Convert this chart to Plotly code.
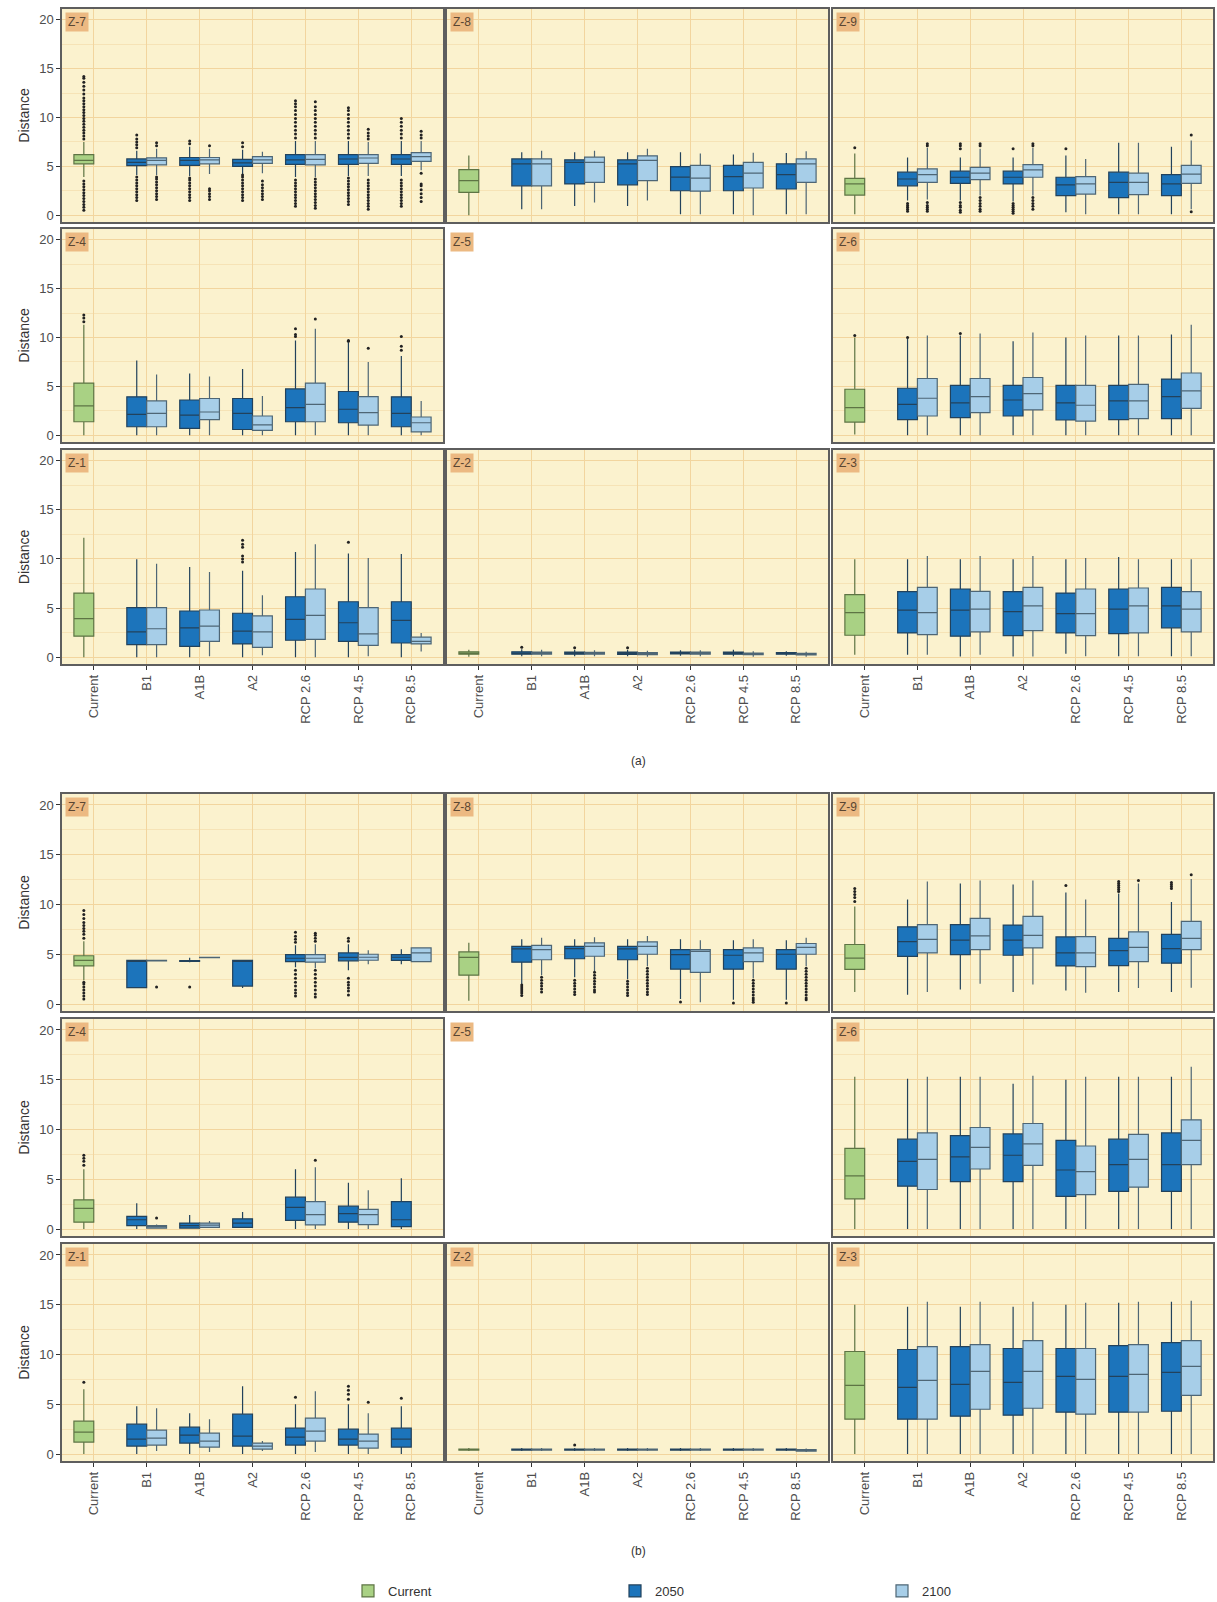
import plotly.graph_objects as go

# ---------------- categories / labels ----------------
CATEGORIES = ["Current", "B1", "A1B", "A2", "RCP 2.6", "RCP 4.5", "RCP 8.5"]
SCENARIOS = CATEGORIES[1:]
Y_TICKS = [0, 5, 10, 15, 20]
SERIES_NAMES = ["Current", "2050", "2100"]
GRID_LAYOUT = [["Z-7", "Z-8", "Z-9"], ["Z-4", "Z-5", "Z-6"], ["Z-1", "Z-2", "Z-3"]]
EMPTY_ZONE = "Z-5"
CAPTIONS = ["(a)", "(b)"]

# box stats: [lower whisker, Q1, median, Q3, upper whisker]; scenario order = SCENARIOS
# ================= (a) =================
A_Z7_CUR = [3.9, 5.25, 5.6, 6.2, 7.5]
A_Z7_CUR_OUT = [7.8, 8.1, 8.4, 8.7, 9.0, 9.3, 9.6, 9.9, 10.2, 10.5, 10.8, 11.1, 11.4, 11.7, 12.0, 12.4,
                12.8, 13.2, 13.6, 14.0, 14.2, 0.5, 0.8, 1.1, 1.4, 1.7, 2.0, 2.3, 2.6, 2.9, 3.2, 3.5]
A_Z7_2050 = [[4.1, 5.08, 5.4, 5.76, 6.6], [4.0, 5.1, 5.6, 5.9, 7.0], [4.2, 5.0, 5.35, 5.7, 6.7],
             [3.9, 5.2, 5.65, 6.2, 7.6], [4.0, 5.2, 5.75, 6.2, 7.6], [4.0, 5.2, 5.75, 6.2, 7.6]]
A_Z7_2050_OUT = [[6.9, 7.2, 7.5, 7.8, 8.2, 1.5, 1.8, 2.1, 2.4, 2.7, 3.0, 3.3, 3.6, 3.9],
                 [7.3, 7.6, 1.5, 1.8, 2.1, 2.4, 2.7, 3.0, 3.3, 3.6, 3.8],
                 [7.0, 7.4, 1.5, 1.8, 2.1, 2.4, 2.7, 3.0, 3.3, 3.6, 3.9, 4.1],
                 [7.9, 8.3, 8.7, 9.1, 9.5, 9.9, 10.3, 10.7, 11.1, 11.4, 11.7, 0.9, 1.2, 1.5, 1.8, 2.1, 2.4, 2.7, 3.0, 3.3, 3.6],
                 [7.9, 8.3, 8.7, 9.1, 9.5, 9.9, 10.3, 10.7, 11.0, 1.1, 1.4, 1.7, 2.0, 2.3, 2.6, 2.9, 3.2, 3.5, 3.8],
                 [7.9, 8.3, 8.7, 9.1, 9.5, 9.9, 0.9, 1.2, 1.5, 1.8, 2.1, 2.4, 2.7, 3.0, 3.3, 3.6]]
A_Z7_2100 = [[4.1, 5.15, 5.6, 5.87, 6.8], [4.2, 5.25, 5.65, 5.9, 6.8], [4.3, 5.3, 5.65, 6.0, 6.5],
             [3.9, 5.15, 5.7, 6.2, 7.6], [4.0, 5.3, 5.85, 6.2, 7.5], [4.6, 5.5, 6.0, 6.4, 7.6]]
A_Z7_2100_OUT = [[7.1, 7.4, 1.6, 1.9, 2.2, 2.5, 2.8, 3.1, 3.4, 3.7, 3.9],
                 [7.1, 1.6, 1.9, 2.2, 2.5, 2.7],
                 [1.6, 1.9, 2.2, 2.5, 2.8, 3.1, 3.5],
                 [7.9, 8.3, 8.7, 9.1, 9.5, 9.9, 10.3, 10.7, 11.1, 11.6, 0.7, 1.0, 1.3, 1.6, 1.9, 2.2, 2.5, 2.8, 3.1, 3.4, 3.7],
                 [7.8, 8.1, 8.4, 8.8, 0.6, 0.9, 1.2, 1.5, 1.8, 2.1, 2.4, 2.7, 3.0, 3.3, 3.6],
                 [7.9, 8.2, 8.6, 4.3, 1.4, 1.8, 2.2, 2.6, 3.0, 3.2]]

A_Z8_CUR = [0.0, 2.33, 3.53, 4.67, 6.1]
A_Z8_CUR_OUT = []
A_Z8_2050 = [[0.6, 3.0, 5.25, 5.76, 6.45], [0.95, 3.2, 5.4, 5.66, 6.45], [0.95, 3.1, 5.25, 5.66, 6.45],
             [0.1, 2.5, 3.9, 4.97, 6.45], [0.1, 2.5, 3.95, 5.1, 6.2], [0.1, 2.68, 4.15, 5.25, 6.35]]
A_Z8_2050_OUT = [[], [], [], [], [], []]
A_Z8_2100 = [[0.6, 3.0, 5.25, 5.76, 6.6], [1.3, 3.36, 5.4, 5.93, 6.6], [1.5, 3.53, 5.6, 6.07, 6.8],
             [0.1, 2.45, 3.8, 5.1, 6.3], [0.0, 2.78, 4.3, 5.4, 6.4], [0.1, 3.36, 5.25, 5.76, 6.55]]
A_Z8_2100_OUT = [[], [], [], [], [], []]

A_Z9_CUR = [0.1, 2.06, 3.2, 3.77, 6.3]
A_Z9_CUR_OUT = [6.9]
A_Z9_2050 = [[1.5, 3.0, 3.7, 4.4, 5.9], [1.5, 3.26, 3.88, 4.5, 5.9], [1.4, 3.2, 3.88, 4.5, 5.9],
             [0.3, 2.0, 3.1, 3.88, 6.1], [0.1, 1.8, 3.36, 4.4, 7.4], [0.1, 2.0, 3.2, 4.15, 7.0]]
A_Z9_2050_OUT = [[1.2, 1.0, 0.8, 0.6, 0.4], [6.8, 7.1, 7.3, 1.3, 1.0, 0.8, 0.5, 0.3],
                 [6.8, 1.2, 1.0, 0.8, 0.6, 0.4, 0.2], [6.8], [], []]
A_Z9_2100 = [[1.6, 3.36, 4.15, 4.73, 6.9], [2.0, 3.64, 4.3, 4.9, 6.8], [2.0, 3.88, 4.63, 5.18, 6.9],
             [0.1, 2.16, 3.2, 3.95, 5.76], [0.1, 2.1, 3.36, 4.3, 7.4], [0.6, 3.26, 4.2, 5.1, 7.65]]
A_Z9_2100_OUT = [[7.1, 7.3, 1.3, 1.0, 0.8, 0.6, 0.4], [7.1, 7.3, 1.8, 1.5, 1.2, 0.9, 0.6, 0.4],
                 [7.1, 7.3, 1.8, 1.5, 1.2, 0.9, 0.6], [], [], [8.2, 0.35]]

A_Z4_CUR = [0.0, 1.37, 2.99, 5.33, 11.3]
A_Z4_CUR_OUT = [11.6, 12.0, 12.3]
A_Z4_2050 = [[0.0, 0.86, 2.13, 3.92, 7.63], [0.0, 0.69, 2.06, 3.6, 6.3], [0.0, 0.58, 2.23, 3.75, 6.77],
             [0.0, 1.37, 2.82, 4.73, 9.7], [0.0, 1.27, 2.65, 4.47, 9.5], [0.0, 0.86, 2.23, 3.92, 8.1]]
A_Z4_2050_OUT = [[], [], [], [10.1, 10.3, 10.9], [9.6, 9.7], [8.7, 9.1, 10.1]]
A_Z4_2100 = [[0.0, 0.86, 2.23, 3.5, 6.2], [0.0, 1.6, 2.37, 3.75, 6.0], [0.0, 0.5, 1.06, 1.96, 4.0],
             [0.0, 1.37, 3.16, 5.33, 10.9], [0.0, 1.03, 2.3, 3.95, 7.5], [0.0, 0.34, 1.27, 1.86, 3.5]]
A_Z4_2100_OUT = [[], [], [], [11.9], [8.9], []]

A_Z6_CUR = [0.07, 1.34, 2.82, 4.7, 10.0]
A_Z6_CUR_OUT = [10.2]
A_Z6_2050 = [[0.0, 1.6, 3.16, 4.8, 9.86], [0.0, 1.8, 3.3, 5.1, 10.2], [0.0, 1.96, 3.6, 5.1, 9.6],
             [0.0, 1.55, 3.3, 5.1, 10.0], [0.0, 1.6, 3.5, 5.1, 10.2], [0.0, 1.7, 3.95, 5.74, 10.3]]
A_Z6_2050_OUT = [[10.0], [10.4], [], [], [], []]
A_Z6_2100 = [[0.0, 1.96, 3.78, 5.8, 10.2], [0.0, 2.3, 3.95, 5.8, 10.4], [0.0, 2.58, 4.26, 5.9, 10.5],
             [0.0, 1.44, 3.06, 5.1, 10.2], [0.0, 1.7, 3.5, 5.2, 10.2], [0.0, 2.75, 4.54, 6.36, 11.3]]
A_Z6_2100_OUT = [[], [], [], [], [], []]

A_Z1_CUR = [0.0, 2.13, 3.92, 6.53, 12.16]
A_Z1_CUR_OUT = []
A_Z1_2050 = [[0.0, 1.27, 2.58, 5.05, 9.97], [0.0, 1.1, 2.99, 4.7, 9.17], [0.0, 1.34, 2.65, 4.47, 8.8],
             [0.0, 1.72, 3.85, 6.15, 10.7], [0.0, 1.6, 3.5, 5.64, 10.55], [0.0, 1.44, 3.75, 5.64, 10.5]]
A_Z1_2050_OUT = [[], [], [9.7, 10.0, 10.3, 11.2, 11.5, 11.9], [], [11.7], []]
A_Z1_2100 = [[0.0, 1.27, 2.89, 5.05, 9.5], [0.1, 1.6, 3.16, 4.8, 8.66], [0.2, 1.0, 2.58, 4.2, 6.3],
             [0.0, 1.8, 4.26, 6.94, 11.5], [0.1, 1.2, 2.37, 5.05, 10.1], [0.58, 1.34, 1.6, 2.03, 2.47]]
A_Z1_2100_OUT = [[], [], [], [], [], []]

A_Z2_CUR = [0.05, 0.3, 0.4, 0.55, 0.75]
A_Z2_CUR_OUT = []
A_Z2_2050 = [[0.1, 0.3, 0.42, 0.55, 0.8], [0.1, 0.3, 0.4, 0.5, 0.75], [0.1, 0.28, 0.38, 0.5, 0.75],
             [0.15, 0.32, 0.42, 0.52, 0.7], [0.1, 0.3, 0.4, 0.5, 0.75], [0.15, 0.3, 0.38, 0.45, 0.6]]
A_Z2_2050_OUT = [[1.0], [0.95], [0.95], [], [], []]
A_Z2_2100 = [[0.1, 0.3, 0.4, 0.5, 0.75], [0.1, 0.3, 0.38, 0.48, 0.7], [0.05, 0.25, 0.35, 0.45, 0.65],
             [0.1, 0.3, 0.4, 0.5, 0.7], [0.05, 0.25, 0.33, 0.42, 0.6], [0.05, 0.22, 0.3, 0.38, 0.55]]
A_Z2_2100_OUT = [[], [], [], [], [], []]

A_Z3_CUR = [0.24, 2.23, 4.54, 6.36, 9.97]
A_Z3_CUR_OUT = []
A_Z3_2050 = [[0.24, 2.47, 4.78, 6.67, 9.97], [0.07, 2.13, 4.78, 6.94, 9.97], [0.07, 2.2, 4.64, 6.67, 9.97],
             [0.34, 2.47, 4.43, 6.53, 9.97], [0.1, 2.4, 4.88, 6.94, 10.2], [0.1, 2.99, 5.22, 7.1, 9.97]]
A_Z3_2050_OUT = [[], [], [], [], [], []]
A_Z3_2100 = [[0.24, 2.3, 4.54, 7.1, 10.3], [0.24, 2.58, 4.88, 6.7, 10.3], [0.07, 2.7, 5.22, 7.1, 10.3],
             [0.1, 2.2, 4.43, 6.94, 10.1], [0.1, 2.47, 5.22, 7.04, 9.97], [0.1, 2.58, 4.88, 6.67, 9.97]]
A_Z3_2100_OUT = [[], [], [], [], [], []]

# ================= (b) =================
B_Z7_CUR = [2.4, 3.83, 4.38, 4.85, 6.3]
B_Z7_CUR_OUT = [6.6, 7.0, 7.3, 7.6, 7.9, 8.2, 8.6, 9.0, 9.4, 0.5, 0.8, 1.1, 1.4, 1.7, 2.0, 2.2]
B_Z7_2050 = [[1.64, 1.64, 4.3, 4.38, 4.38], [4.2, 4.28, 4.32, 4.36, 4.65], [1.6, 1.8, 4.3, 4.38, 4.38],
             [3.7, 4.27, 4.6, 4.96, 5.9], [3.4, 4.34, 4.68, 5.13, 6.0], [4.0, 4.38, 4.7, 4.96, 5.5]]
B_Z7_2050_OUT = [[], [1.7], [], [6.2, 6.5, 6.8, 7.2, 3.4, 3.0, 2.6, 2.2, 1.8, 1.4, 1.1, 0.8],
                 [6.3, 6.6, 2.6, 2.2, 1.9, 1.6, 1.3, 0.9], []]
B_Z7_2100 = [[4.3, 4.33, 4.35, 4.38, 4.4], [4.62, 4.65, 4.68, 4.7, 4.74], None,
             [3.6, 4.2, 4.6, 4.96, 6.0], [4.0, 4.4, 4.7, 5.0, 5.4], [4.27, 4.27, 5.13, 5.64, 5.64]]
B_Z7_2100_OUT = [[1.7], [], [], [6.3, 6.6, 6.9, 7.1, 3.4, 3.0, 2.6, 2.2, 1.8, 1.4, 1.0, 0.7], [], []]

B_Z8_CUR = [0.34, 2.9, 4.68, 5.23, 6.15]
B_Z8_CUR_OUT = []
B_Z8_2050 = [[2.0, 4.2, 5.54, 5.8, 6.5], [2.7, 4.55, 5.57, 5.8, 6.5], [2.5, 4.45, 5.54, 5.8, 6.5],
             [0.5, 3.5, 4.96, 5.47, 6.5], [0.44, 3.5, 4.9, 5.47, 6.4], [0.44, 3.5, 5.0, 5.47, 6.4]]
B_Z8_2050_OUT = [[1.9, 1.7, 1.5, 1.3, 1.1, 0.85], [2.4, 2.1, 1.8, 1.5, 1.2, 0.95],
                 [2.3, 2.0, 1.7, 1.4, 1.1, 0.85], [0.2], [0.1], [0.1]]
B_Z8_2100 = [[2.9, 4.45, 5.47, 5.9, 6.67], [3.3, 4.8, 5.8, 6.15, 6.7], [3.8, 5.0, 5.8, 6.25, 6.84],
             [0.17, 3.18, 5.3, 5.47, 6.4], [2.6, 4.27, 5.13, 5.64, 6.5], [3.8, 5.0, 5.7, 6.08, 6.67]]
B_Z8_2100_OUT = [[2.7, 2.4, 2.1, 1.8, 1.5, 1.2], [3.2, 2.9, 2.6, 2.3, 2.0, 1.7, 1.4, 1.2],
                 [3.6, 3.3, 3.0, 2.7, 2.4, 2.1, 1.8, 1.5, 1.2, 0.95], [],
                 [2.4, 2.1, 1.8, 1.5, 1.2, 0.9, 0.6, 0.4, 0.17],
                 [3.6, 3.3, 3.0, 2.7, 2.4, 2.1, 1.8, 1.5, 1.2, 0.9, 0.6, 0.44]]

B_Z9_CUR = [1.2, 3.49, 4.62, 5.98, 9.8]
B_Z9_CUR_OUT = [10.3, 10.7, 11.0, 11.3, 11.6]
B_Z9_2050 = [[0.92, 4.79, 6.26, 7.76, 10.5], [1.47, 4.96, 6.43, 7.97, 12.1], [1.2, 4.9, 6.43, 7.93, 12.0],
             [1.37, 3.83, 5.13, 6.74, 11.2], [1.2, 3.86, 5.37, 6.6, 11.1], [1.2, 4.1, 5.57, 7.0, 10.25]]
B_Z9_2050_OUT = [[], [], [], [11.9], [11.3, 11.5, 11.7, 11.9, 12.1, 12.3], [11.6, 11.8, 12.0, 12.2]]
B_Z9_2100 = [[1.2, 5.13, 6.5, 7.97, 12.3], [2.05, 5.47, 6.84, 8.6, 12.4], [1.95, 5.64, 6.9, 8.8, 12.4],
             [1.13, 3.76, 5.13, 6.77, 10.5], [1.6, 4.27, 5.7, 7.25, 12.1], [1.64, 5.47, 6.6, 8.3, 12.55]]
B_Z9_2100_OUT = [[], [], [], [], [12.4], [13.0]]

B_Z4_CUR = [0.0, 0.69, 2.07, 2.93, 6.0]
B_Z4_CUR_OUT = [6.4, 6.8, 7.1, 7.4]
B_Z4_2050 = [[0.0, 0.34, 0.93, 1.28, 2.6], [0.1, 0.1, 0.34, 0.6, 1.4], [0.1, 0.17, 0.6, 1.03, 1.7],
             [0.0, 0.86, 2.17, 3.2, 6.0], [0.0, 0.69, 1.55, 2.3, 4.65], [0.0, 0.24, 0.93, 2.76, 5.1]]
B_Z4_2050_OUT = [[], [], [], [], [], []]
B_Z4_2100 = [[0.1, 0.1, 0.24, 0.34, 0.45], [0.1, 0.17, 0.4, 0.6, 0.8], None,
             [0.0, 0.41, 1.45, 2.76, 6.2], [0.0, 0.45, 1.45, 1.97, 3.9], None]
B_Z4_2100_OUT = [[1.1], [], [], [6.9], [], []]

B_Z6_CUR = [0.0, 3.03, 5.34, 8.1, 15.3]
B_Z6_CUR_OUT = []
B_Z6_2050 = [[0.0, 4.31, 6.8, 9.03, 15.1], [0.0, 4.76, 7.24, 9.38, 15.3], [0.0, 4.76, 7.41, 9.55, 14.6],
             [0.0, 3.28, 5.93, 8.9, 15.0], [0.0, 3.79, 6.48, 9.03, 15.3], [0.0, 3.79, 6.48, 9.66, 15.3]]
B_Z6_2050_OUT = [[], [], [], [], [], []]
B_Z6_2100 = [[0.0, 3.97, 7.0, 9.66, 15.3], [0.0, 6.03, 8.2, 10.2, 15.3], [0.0, 6.4, 8.55, 10.6, 15.4],
             [0.0, 3.45, 5.76, 8.34, 15.3], [0.0, 4.2, 7.0, 9.5, 15.3], [0.0, 6.48, 8.9, 10.97, 16.3]]
B_Z6_2100_OUT = [[], [], [], [], [], []]

B_Z1_CUR = [0.0, 1.2, 2.2, 3.3, 6.5]
B_Z1_CUR_OUT = [7.2]
B_Z1_2050 = [[0.0, 0.8, 1.5, 3.0, 4.8], [0.0, 1.1, 1.9, 2.7, 4.1], [0.0, 0.8, 1.8, 4.0, 6.8],
             [0.0, 0.9, 1.7, 2.6, 5.0], [0.0, 0.9, 1.5, 2.5, 5.0], [0.0, 0.7, 1.5, 2.6, 4.8]]
B_Z1_2050_OUT = [[], [], [], [5.7], [5.5, 6.0, 6.4, 6.8], [5.6]]
B_Z1_2100 = [[0.3, 0.9, 1.6, 2.4, 4.6], [0.2, 0.7, 1.3, 2.1, 3.5], [0.3, 0.5, 0.8, 1.1, 1.3],
             [0.2, 1.3, 2.3, 3.6, 6.3], [0.0, 0.6, 1.3, 2.0, 4.1], None]
B_Z1_2100_OUT = [[], [], [], [], [5.2], []]

B_Z2_CUR = [0.3, 0.4, 0.45, 0.5, 0.6]
B_Z2_CUR_OUT = []
B_Z2_2050 = [[0.3, 0.4, 0.45, 0.5, 0.6], [0.3, 0.4, 0.45, 0.5, 0.6], [0.3, 0.4, 0.45, 0.5, 0.6],
             [0.3, 0.4, 0.45, 0.5, 0.6], [0.3, 0.4, 0.45, 0.5, 0.6], [0.3, 0.4, 0.45, 0.5, 0.6]]
B_Z2_2050_OUT = [[], [0.9], [], [], [], []]
B_Z2_2100 = [[0.3, 0.4, 0.45, 0.5, 0.6], [0.3, 0.4, 0.45, 0.5, 0.6], [0.3, 0.4, 0.45, 0.5, 0.6],
             [0.3, 0.4, 0.45, 0.5, 0.6], [0.3, 0.4, 0.45, 0.5, 0.6], [0.2, 0.3, 0.4, 0.45, 0.55]]
B_Z2_2100_OUT = [[], [], [], [], [], []]

B_Z3_CUR = [0.0, 3.5, 6.9, 10.3, 15.0]
B_Z3_CUR_OUT = []
B_Z3_2050 = [[0.0, 3.5, 6.7, 10.5, 14.8], [0.0, 3.8, 7.0, 10.8, 14.8], [0.0, 3.9, 7.2, 10.6, 14.8],
             [0.0, 4.2, 7.8, 10.6, 15.0], [0.0, 4.2, 7.8, 10.9, 15.2], [0.0, 4.3, 8.2, 11.2, 15.3]]
B_Z3_2050_OUT = [[], [], [], [], [], []]
B_Z3_2100 = [[0.0, 3.5, 7.4, 10.8, 15.3], [0.0, 4.5, 8.3, 11.0, 15.3], [0.0, 4.6, 8.3, 11.4, 15.3],
             [0.0, 4.0, 7.5, 10.6, 15.2], [0.0, 4.2, 8.0, 11.0, 15.3], [0.0, 5.9, 8.8, 11.4, 15.4]]
B_Z3_2100_OUT = [[], [], [], [], [], []]

# table built from the named arrays
PANELS = {
    ("a", "Z-7"): (A_Z7_CUR, A_Z7_CUR_OUT, A_Z7_2050, A_Z7_2050_OUT, A_Z7_2100, A_Z7_2100_OUT),
    ("a", "Z-8"): (A_Z8_CUR, A_Z8_CUR_OUT, A_Z8_2050, A_Z8_2050_OUT, A_Z8_2100, A_Z8_2100_OUT),
    ("a", "Z-9"): (A_Z9_CUR, A_Z9_CUR_OUT, A_Z9_2050, A_Z9_2050_OUT, A_Z9_2100, A_Z9_2100_OUT),
    ("a", "Z-4"): (A_Z4_CUR, A_Z4_CUR_OUT, A_Z4_2050, A_Z4_2050_OUT, A_Z4_2100, A_Z4_2100_OUT),
    ("a", "Z-6"): (A_Z6_CUR, A_Z6_CUR_OUT, A_Z6_2050, A_Z6_2050_OUT, A_Z6_2100, A_Z6_2100_OUT),
    ("a", "Z-1"): (A_Z1_CUR, A_Z1_CUR_OUT, A_Z1_2050, A_Z1_2050_OUT, A_Z1_2100, A_Z1_2100_OUT),
    ("a", "Z-2"): (A_Z2_CUR, A_Z2_CUR_OUT, A_Z2_2050, A_Z2_2050_OUT, A_Z2_2100, A_Z2_2100_OUT),
    ("a", "Z-3"): (A_Z3_CUR, A_Z3_CUR_OUT, A_Z3_2050, A_Z3_2050_OUT, A_Z3_2100, A_Z3_2100_OUT),
    ("b", "Z-7"): (B_Z7_CUR, B_Z7_CUR_OUT, B_Z7_2050, B_Z7_2050_OUT, B_Z7_2100, B_Z7_2100_OUT),
    ("b", "Z-8"): (B_Z8_CUR, B_Z8_CUR_OUT, B_Z8_2050, B_Z8_2050_OUT, B_Z8_2100, B_Z8_2100_OUT),
    ("b", "Z-9"): (B_Z9_CUR, B_Z9_CUR_OUT, B_Z9_2050, B_Z9_2050_OUT, B_Z9_2100, B_Z9_2100_OUT),
    ("b", "Z-4"): (B_Z4_CUR, B_Z4_CUR_OUT, B_Z4_2050, B_Z4_2050_OUT, B_Z4_2100, B_Z4_2100_OUT),
    ("b", "Z-6"): (B_Z6_CUR, B_Z6_CUR_OUT, B_Z6_2050, B_Z6_2050_OUT, B_Z6_2100, B_Z6_2100_OUT),
    ("b", "Z-1"): (B_Z1_CUR, B_Z1_CUR_OUT, B_Z1_2050, B_Z1_2050_OUT, B_Z1_2100, B_Z1_2100_OUT),
    ("b", "Z-2"): (B_Z2_CUR, B_Z2_CUR_OUT, B_Z2_2050, B_Z2_2050_OUT, B_Z2_2100, B_Z2_2100_OUT),
    ("b", "Z-3"): (B_Z3_CUR, B_Z3_CUR_OUT, B_Z3_2050, B_Z3_2050_OUT, B_Z3_2100, B_Z3_2100_OUT),
}

# ---------------- styling / layout ----------------
W, H = 1217, 1602
FONT = "Liberation Sans, Arial, sans-serif"
PANEL_BG = "#FBF2CE"
GRID_MAJOR = "#F2D59E"
GRID_MINOR = "#F6E3B6"
BORDER = "#5E5E5E"
STRIP_BG = "#ECB982"
FILL = {"Current": "#A9D184", "2050": "#1C74BB", "2100": "#A7CEE8"}
LINE = {"Current": "#5E7444", "2050": "#22425C", "2100": "#4E6675"}
OFFSET = {"Current": "left", "2050": "left", "2100": "right"}

COL_X = [(62, 443), (447, 828), (833, 1213)]
ROW_Y = {"a": [(9, 222), (229, 442), (450, 664)],
         "b": [(794, 1011), (1019, 1236), (1244, 1461)]}
CAPTION_Y = {"a": 761, "b": 1560}
Y_RANGE = [-0.7, 21.1]


def px_x(v):
    return v / W


def px_y(v):
    return 1 - v / H


fig = go.Figure()
layout_axes = {}
annotations = []
legend_done = set()
k = 0

for fig_key, caption in zip(["a", "b"], CAPTIONS):
    for r, row in enumerate(GRID_LAYOUT):
        for c, zone in enumerate(row):
            x0, x1 = COL_X[c]
            y0, y1 = ROW_Y[fig_key][r]
            annotations.append(dict(
                text=zone, x=px_x(x0 + 3), y=px_y(y0 + 3), xref="paper", yref="paper",
                xanchor="left", yanchor="top", showarrow=False, bgcolor=STRIP_BG,
                borderpad=2, font=dict(family=FONT, size=12, color="#5A4632")))
            if zone == EMPTY_ZONE:
                continue
            k += 1
            sfx = "" if k == 1 else str(k)
            bottom_row = (r == 2)
            left_col = (c == 0)
            layout_axes["xaxis" + sfx] = dict(
                domain=[px_x(x0), px_x(x1)], anchor="y" + sfx, type="category",
                categoryorder="array", categoryarray=CATEGORIES, range=[-0.6, 6.6],
                showgrid=True, gridcolor=GRID_MAJOR, gridwidth=1,
                showline=True, mirror=True, linecolor=BORDER, linewidth=1.5,
                ticks="outside" if bottom_row else "", ticklen=4, tickcolor="#333333",
                showticklabels=bottom_row, tickangle=-90,
                tickfont=dict(family=FONT, size=13, color="#4D4D4D"), zeroline=False)
            layout_axes["yaxis" + sfx] = dict(
                domain=[px_y(y1), px_y(y0)], anchor="x" + sfx, range=Y_RANGE,
                tickvals=Y_TICKS, showgrid=True, gridcolor=GRID_MAJOR, gridwidth=1,
                minor=dict(dtick=2.5, tick0=0, showgrid=True, gridcolor=GRID_MINOR, gridwidth=1),
                showline=True, mirror=True, linecolor=BORDER, linewidth=1.5,
                ticks="outside" if left_col else "", ticklen=4, tickcolor="#333333",
                showticklabels=left_col, zeroline=False,
                tickfont=dict(family=FONT, size=13, color="#4D4D4D"),
                title=dict(text="Distance" if left_col else "", standoff=6,
                           font=dict(family=FONT, size=14, color="#333333")))

            cur, cur_out, s50, o50, s100, o100 = PANELS[(fig_key, zone)]
            groups = [("Current", ["Current"], [cur], [cur_out]),
                      ("2050", SCENARIOS, s50, o50),
                      ("2100", SCENARIOS, s100, o100)]
            for name, cats, stats, outs in groups:
                xs, q1, med, q3, lo, hi, pts = [], [], [], [], [], [], []
                for cat, st, ou in zip(cats, stats, outs):
                    if st is None:
                        continue
                    xs.append(cat)
                    lo.append(st[0]); q1.append(st[1]); med.append(st[2])
                    q3.append(st[3]); hi.append(st[4])
                    # sample list per box: the median (inside the box, never drawn) + outliers
                    pts.append([st[2]] + list(ou))
                show = name not in legend_done
                legend_done.add(name)
                fig.add_trace(go.Box(
                    name=name, legendgroup=name, showlegend=show, orientation="v",
                    x=xs, y=pts, q1=q1, median=med, q3=q3, lowerfence=lo, upperfence=hi,
                    xaxis="x" + sfx, yaxis="y" + sfx,
                    offsetgroup=OFFSET[name], alignmentgroup="p%d" % k,
                    fillcolor=FILL[name], line=dict(color=LINE[name], width=1.2),
                    whiskerwidth=0, boxpoints="outliers", pointpos=0, jitter=0,
                    marker=dict(color="#222222", size=3, outliercolor="#222222",
                                line=dict(width=0)),
                    hoverinfo="skip"))
    annotations.append(dict(text=caption, x=px_x(638), y=px_y(CAPTION_Y[fig_key]),
                            xref="paper", yref="paper", showarrow=False,
                            font=dict(family=FONT, size=12, color="#333333")))

fig.update_layout(
    width=W, height=H, margin=dict(l=0, r=0, t=0, b=0, autoexpand=False),
    paper_bgcolor="white", plot_bgcolor=PANEL_BG,
    boxmode="group", boxgap=0.25, boxgroupgap=0.0,
    font=dict(family=FONT, color="#333333"),
    annotations=annotations,
    legend=dict(orientation="h", x=px_x(348), y=px_y(1591), xanchor="left", yanchor="middle",
                entrywidth=222, entrywidthmode="pixels", bgcolor="rgba(0,0,0,0)",
                font=dict(family=FONT, size=13, color="#333333"), traceorder="normal"),
    **layout_axes,
)

fig.write_html(
    "out.html",
    config={"displayModeBar": False},
    post_script="document.body.style.margin='0';document.body.style.overflow='hidden';",
)
